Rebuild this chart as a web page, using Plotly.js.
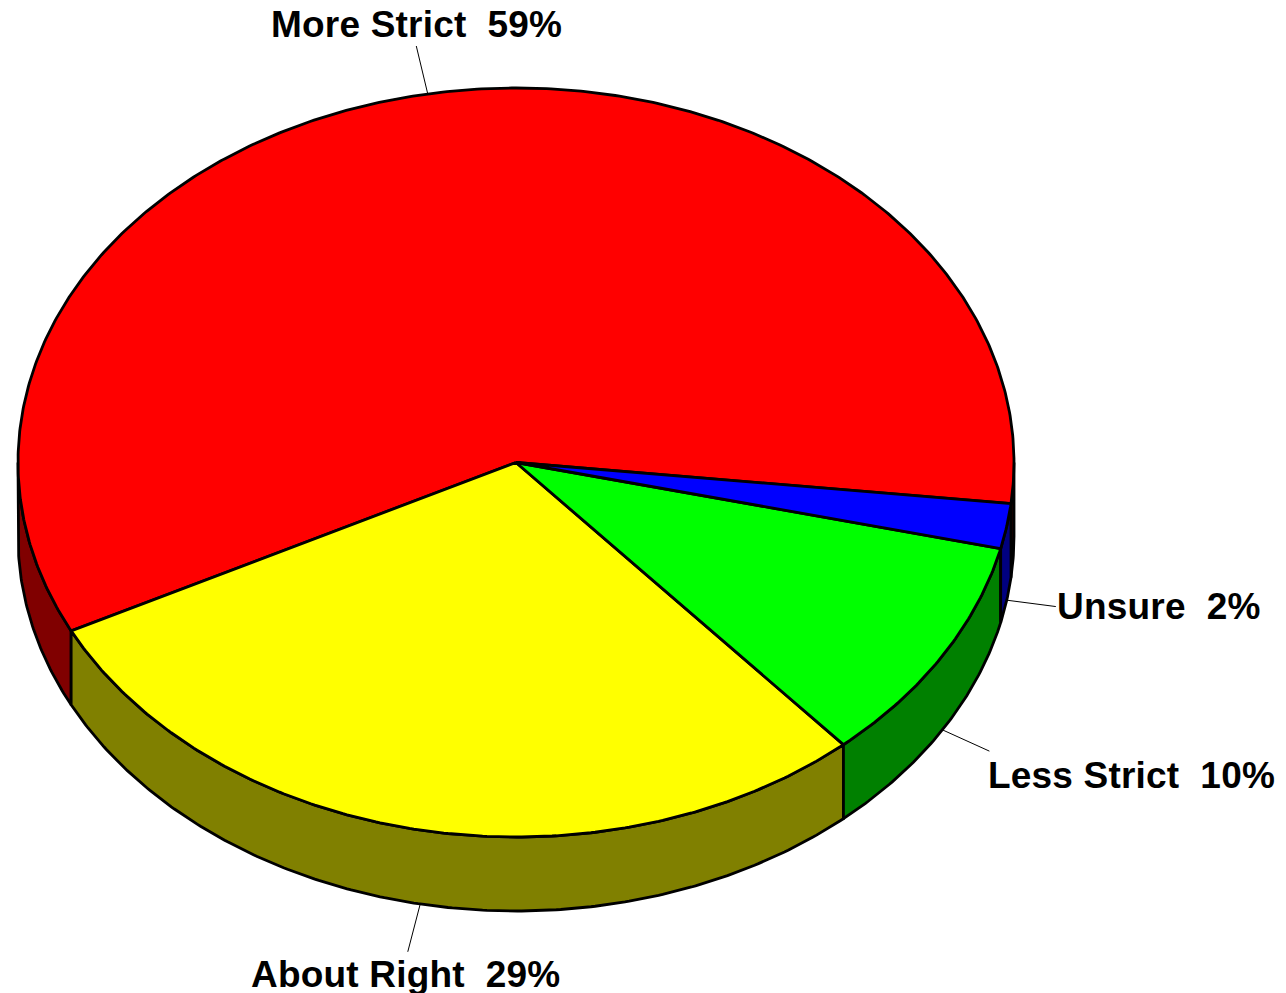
<!DOCTYPE html>
<html>
<head>
<meta charset="utf-8">
<script src="https://cdn.plot.ly/plotly-3.0.1.min.js"></script>
<style>
html,body{margin:0;padding:0;background:#fff;overflow:hidden}
#chart{width:1286px;height:993px}
.annotation-text{letter-spacing:0.2px}
</style>
</head>
<body>
<div id="chart"></div>
<script>
const categories = ["More Strict", "About Right", "Less Strict", "Unsure"];
const printedPercent = [59, 29, 10, 2];
const measuredShares = [59.17, 29.0, 9.89, 1.94];

// Styles
const topColors = ["#ff0000", "#ffff00", "#00ff00", "#0000ff"];
const wallColors = ["#800000", "#808000", "#008000", "#000080"];

// Layout of the tilted disc, in page pixels
const W = 1286, H = 993;
const CX = 516, CY = 462.5, RX = 498, RY = 374.5, DEPTH = 74;
const START_DEG = 366.3;            // where the first slice starts, sweeping backwards
const leaderScale = [0.13, 0.13, 0.11, 0.10];
const labelLeft = [271, 251, 988, 1057];
const labelMiddle = [24, 974, 775, 606];

const rad = d => d * Math.PI / 180;
const px = t => CX + RX * Math.cos(rad(t));
const py = (t, drop) => CY + RY * Math.sin(rad(t)) + (drop || 0);

function arc(from, to, drop) {
  const n = Math.max(2, Math.ceil(Math.abs(to - from) * 2));
  const xs = [], ys = [];
  for (let i = 0; i <= n; i++) {
    const t = from + (to - from) * i / n;
    xs.push(px(t)); ys.push(py(t, drop));
  }
  return [xs, ys];
}

const total = measuredShares.reduce((a, b) => a + b, 0);
let cursor = START_DEG;
const slices = measuredShares.map(v => {
  const hi = cursor, lo = cursor - v / total * 360;
  cursor = lo;
  return { lo, hi, mid: (lo + hi) / 2 };
});

const shape = (x, y, fill) => ({
  type: "scatter", mode: "lines", x, y, fill: "toself", fillcolor: fill,
  line: { color: "#000", width: 2.8 }, hoverinfo: "skip", showlegend: false
});

const traces = [];

// Side walls: only the front half of the rim shows
slices.forEach((s, i) => {
  [[0, 180], [360, 540]].forEach(([a, b]) => {
    const lo = Math.max(s.lo, a), hi = Math.min(s.hi, b);
    if (hi <= lo) return;
    const [tx, ty] = arc(lo, hi, 0);
    const [bx, by] = arc(hi, lo, DEPTH);
    traces.push(shape(tx.concat(bx, [tx[0]]), ty.concat(by, [ty[0]]), wallColors[i]));
  });
});

// Top faces
slices.forEach((s, i) => {
  const [ax, ay] = arc(s.lo, s.hi, 0);
  traces.push(shape([CX].concat(ax, [CX]), [CY].concat(ay, [CY]), topColors[i]));
});

// Leader lines from the rim at each slice's middle
slices.forEach((s, i) => {
  const drop = py(s.mid) > CY ? DEPTH : 0;
  const x0 = px(s.mid), y0 = py(s.mid, drop);
  const x1 = x0 + (x0 - CX) * leaderScale[i];
  const y1 = y0 + (py(s.mid) - CY) * leaderScale[i];
  traces.push({
    type: "scatter", mode: "lines", x: [x0, x1], y: [y0, y1],
    line: { color: "#000", width: 1 }, hoverinfo: "skip", showlegend: false
  });
});

const annotations = categories.map((c, i) => ({
  text: c + "  " + printedPercent[i] + "%",
  x: labelLeft[i], y: labelMiddle[i], xref: "x", yref: "y",
  xanchor: "left", yanchor: "middle", showarrow: false, borderpad: 0, borderwidth: 0,
  font: { family: "Liberation Sans, Arial, sans-serif", size: 37, color: "#000", weight: 700 }
}));

Plotly.newPlot("chart", traces, {
  width: W, height: H,
  margin: { l: 0, r: 0, t: 0, b: 0, pad: 0 },
  paper_bgcolor: "#fff", plot_bgcolor: "#fff",
  xaxis: { range: [0, W], visible: false, fixedrange: true },
  yaxis: { range: [H, 0], visible: false, fixedrange: true },
  annotations, showlegend: false
}, { displayModeBar: false, staticPlot: true });
</script>
</body>
</html>
